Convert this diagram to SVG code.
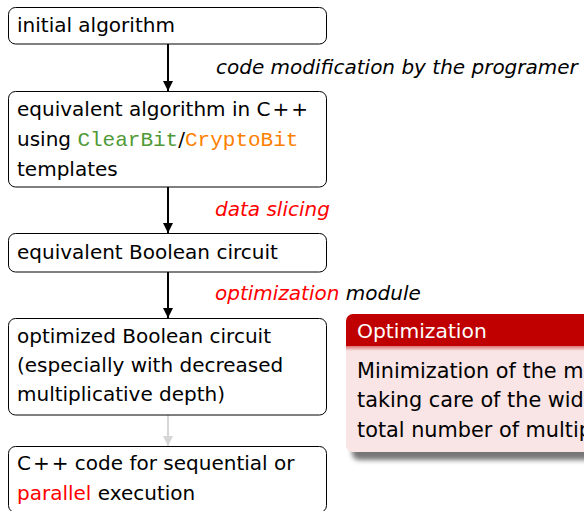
<svg xmlns="http://www.w3.org/2000/svg" width="584" height="511" viewBox="0 0 584 511">
  <defs>
    <style>
      .box { fill: #ffffff; stroke: #000000; stroke-width: 1; }
      .txt { font-family: "DejaVu Sans", sans-serif; font-size: 20px; fill: #000000; }
      .blk-txt { font-family: "DejaVu Sans", sans-serif; font-size: 20.8px; fill: #000000; }
      .lbl { font-family: "DejaVu Sans", sans-serif; font-size: 20px; font-style: italic; fill: #000000; }
      .mono { font-family: "Liberation Mono", "DejaVu Sans Mono", monospace; font-size: 21px; }
      .red { fill: #ff0000; }
      .green { fill: #4f9a36; }
      .orange { fill: #ff8000; }
      .edge { stroke: #000000; stroke-width: 2; fill: none; }
      .edge-faint { stroke: #d6d6d6; stroke-width: 2; fill: none; }
      .blk-title { font-family: "DejaVu Sans", sans-serif; font-size: 20.3px; fill: #ffffff; }
    </style>
    <marker id="arrow" viewBox="0 0 10 14" refX="10" refY="7" markerWidth="10" markerHeight="14" markerUnits="userSpaceOnUse" orient="auto">
      <path d="M0,2 L10,7 L0,12 Z" fill="#000000"/>
    </marker>
    <marker id="arrow-faint" viewBox="0 0 10 14" refX="10" refY="7" markerWidth="10" markerHeight="14" markerUnits="userSpaceOnUse" orient="auto">
      <path d="M0,2 L10,7 L0,12 Z" fill="#d6d6d6"/>
    </marker>
    <linearGradient id="blk-fade" x1="0" y1="0" x2="0" y2="1">
      <stop offset="0" stop-color="#dc7070"/>
      <stop offset="1" stop-color="#f9e5e5"/>
    </linearGradient>
    <filter id="blk-shadow" x="-10%" y="-10%" width="130%" height="140%">
      <feGaussianBlur stdDeviation="2.5"/>
    </filter>
  </defs>

  <!-- connectors -->
  <g id="connectors">
    <line class="edge" x1="168" y1="44" x2="168" y2="91" marker-end="url(#arrow)"/>
    <line class="edge" x1="168" y1="187" x2="168" y2="233" marker-end="url(#arrow)"/>
    <line class="edge" x1="168" y1="272" x2="168" y2="318" marker-end="url(#arrow)"/>
    <line class="edge-faint" x1="168" y1="415" x2="168" y2="446" marker-end="url(#arrow-faint)"/>
    <text class="lbl" x="216" y="74">code modification by the programer</text>
    <text class="lbl red" x="215" y="216">data slicing</text>
    <text class="lbl" x="215" y="300"><tspan class="red">optimization</tspan> module</text>
  </g>

  <g id="node-initial">
    <rect class="box" x="8.5" y="7.5" width="318" height="36.5" rx="7"/>
    <text class="txt" x="17" y="32">initial algorithm</text>
  </g>

  <g id="node-cpp-templates">
    <rect class="box" x="8.5" y="91.5" width="318" height="95.5" rx="7"/>
    <text class="txt" x="17" y="116">equivalent algorithm in C<tspan dx="2">+</tspan><tspan dx="2">+</tspan></text>
    <text class="txt" x="17" y="146">using <tspan class="mono green">ClearBit</tspan>/<tspan class="mono orange">CryptoBit</tspan></text>
    <text class="txt" x="17" y="176">templates</text>
  </g>

  <g id="node-boolean">
    <rect class="box" x="8.5" y="233.5" width="318" height="38.5" rx="7"/>
    <text class="txt" x="17" y="259">equivalent Boolean circuit</text>
  </g>

  <g id="node-optimized">
    <rect class="box" x="8.5" y="318.5" width="318" height="96.5" rx="7"/>
    <text class="txt" x="17" y="343">optimized Boolean circuit</text>
    <text class="txt" x="17" y="372">(especially with decreased</text>
    <text class="txt" x="17" y="401">multiplicative depth)</text>
  </g>

  <g id="node-output">
    <rect class="box" x="8.5" y="446.5" width="318" height="66" rx="7"/>
    <text class="txt" x="17" y="470">C<tspan dx="2">+</tspan><tspan dx="2">+</tspan> code for sequential or</text>
    <text class="txt" x="17" y="500"><tspan class="red">parallel</tspan> execution</text>
  </g>

  <!-- alert block on the right -->
  <g id="block-optimization">
    <rect x="352" y="322" width="260" height="138" rx="7" fill="#4a4a4a" opacity="0.75" filter="url(#blk-shadow)"/>
    <path d="M346,321 A7,7 0 0 1 353,314 L600,314 L600,346 L346,346 Z" fill="#c00000"/>
    <rect x="346" y="346" width="254" height="5" fill="url(#blk-fade)"/>
    <path d="M346,351 L600,351 L600,452 L353,452 A7,7 0 0 1 346,445 Z" fill="#f9e5e5"/>
    <text class="blk-title" x="357" y="338">Optimization</text>
    <text class="blk-txt" x="357" y="378">Minimization of the m</text>
    <text class="blk-txt" x="357" y="407">taking care of the widt</text>
    <text class="blk-txt" x="357" y="437">total number of multip</text>
  </g>
</svg>
